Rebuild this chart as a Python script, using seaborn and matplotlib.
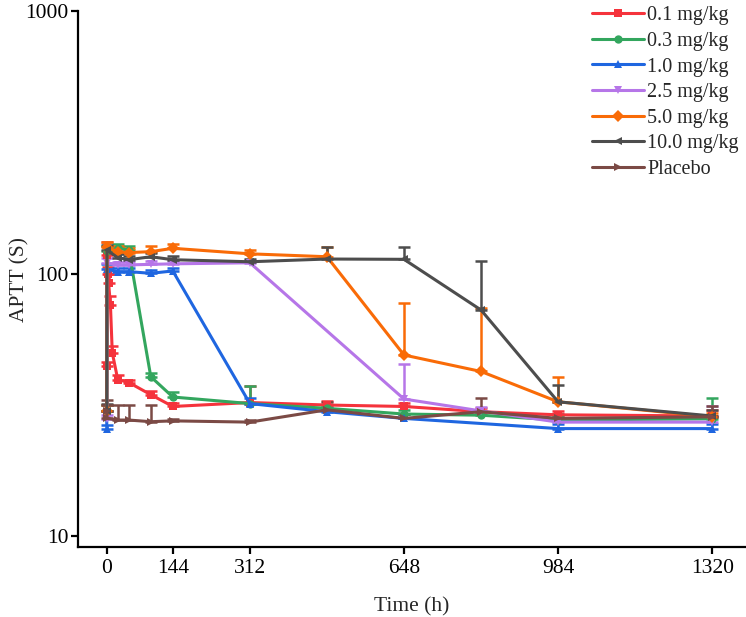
import numpy as np
import pandas as pd
import seaborn as sns
import matplotlib
matplotlib.use("Agg")
import matplotlib.pyplot as plt
from matplotlib.ticker import FixedLocator, NullLocator, FixedFormatter

# ---- data ----
doses = ["0.1 mg/kg", "0.3 mg/kg", "1.0 mg/kg", "2.5 mg/kg", "5.0 mg/kg", "10.0 mg/kg", "Placebo"]

t_01 = [0, 0.5, 2, 4, 8, 12, 24, 48, 96, 144, 312, 480, 648, 816, 984, 1320]
y_01 = [44.6, 118, 100, 92, 76, 50, 39.5, 38.5, 34.6, 31.2, 32.3, 31.6, 31.2, 29.8, 29.0, 28.7]
e_01 = [1.5, 14, 6, 8, 6, 3, 1.5, 1.0, 1.0, 1.0, 5.0, 1.0, 1.0, 1.0, 1.0, 1.5]

t_03 = [0, 0.5, 24, 48, 96, 144, 312, 480, 648, 816, 984, 1320]
y_03 = [30.0, 122, 124.9, 123, 40.5, 33.9, 32.0, 30.7, 29.2, 28.9, 27.7, 28.0]
e_03 = [1.5, 6, 5, 5, 1.5, 1.6, 5.5, 1.0, 1.0, 1.0, 1.0, 5.5]

t_10 = [0, 0.5, 24, 48, 96, 144, 312, 480, 648, 984, 1320]
y_10 = [25.5, 104, 101.8, 101.8, 100.3, 102.4, 32.0, 29.8, 28.1, 25.7, 25.7]
e_10 = [1.0, 5, 3, 3, 3, 3, 1.5, 1.0, 1.0, 1.0, 1.0]

t_25 = [0, 0.5, 24, 48, 96, 144, 312, 648, 816, 984, 1320]
y_25 = [28.0, 110, 108, 108, 108.5, 109, 110, 33.3, 30.0, 27.2, 27.2]
e_25 = [1.0, 5, 3, 3, 3, 3, 3, 12, 1.0, 1.0, 4.0]

t_50 = [0, 0.5, 24, 48, 96, 144, 312, 480, 648, 816, 984, 1320]
y_50 = [30.0, 126, 121.3, 120.3, 121.3, 124.9, 119, 116, 49, 42.4, 32.5, 28.5]
e_50 = [1.5, 6, 6, 5, 6, 5, 4, 10, 28.6, 31.6, 7.8, 1.0]

t_100 = [0, 0.5, 24, 48, 96, 144, 312, 480, 648, 816, 984, 1320]
y_100 = [30.0, 123, 115, 113, 116, 113, 111, 113.7, 113.4, 72.7, 32.5, 28.7]
e_100 = [2.0, 6, 4, 4, 4, 4, 3, 13, 13, 39, 5.2, 1.5]

t_pl = [0, 0.5, 24, 48, 96, 144, 312, 480, 648, 816, 984, 1320]
y_pl = [30.0, 28.1, 27.7, 27.7, 27.3, 27.5, 27.2, 30.3, 28.1, 29.8, 28.1, 28.5]
e_pl = [3.0, 3.5, 4.0, 3.9, 4.2, 0.5, 0.5, 2.2, 1.0, 3.9, 1.0, 2.7]

times = [t_01, t_03, t_10, t_25, t_50, t_100, t_pl]
vals = [y_01, y_03, y_10, y_25, y_50, y_100, y_pl]
errs = [e_01, e_03, e_10, e_25, e_50, e_100, e_pl]

colors = ["#F5333C", "#33A65E", "#1F66E0", "#B676E8", "#F96B07", "#4D4D4D", "#7B4A45"]
marks = ["s", "o", "^", "v", "D", "<", ">"]

rows = []
for d, tt, yy in zip(doses, times, vals):
    for a, b in zip(tt, yy):
        rows.append({"Time (h)": a, "APTT (S)": b, "dose": d})
df = pd.DataFrame(rows)

sns.set_style("ticks")
plt.rcParams["font.family"] = ["Liberation Serif", "DejaVu Serif"]

fig = plt.figure(figsize=(7.46, 6.17), dpi=100)
ax = fig.add_axes([0.105, 0.1135, 0.894, 0.8685])

# error bars first (upper only), so lines sit on top
for tt, yy, ee, c in zip(times, vals, errs, colors):
    ee = np.array(ee)
    ax.errorbar(tt, yy, yerr=[np.zeros_like(ee), ee], fmt="none", ecolor=c,
                elinewidth=1.8, capsize=4, capthick=1.8, zorder=1)

sns.lineplot(data=df, x="Time (h)", y="APTT (S)", hue="dose", style="dose",
             hue_order=doses, style_order=doses,
             palette=dict(zip(doses, colors)), markers=dict(zip(doses, marks)),
             dashes=False, markersize=6, markeredgewidth=0, linewidth=2.2,
             sort=False, estimator=None, ax=ax, zorder=2)

ax.set_yscale("log")
ax.set_ylim(9.1, 1000)
ax.set_xlim(-62, 1392)
ax.yaxis.set_major_locator(FixedLocator([10, 100, 1000]))
ax.yaxis.set_major_formatter(FixedFormatter(["10", "100", "1000"]))
ax.yaxis.set_minor_locator(NullLocator())
ax.set_xticks([0, 144, 312, 648, 984, 1320])

for s in ["top", "right"]:
    ax.spines[s].set_visible(False)
for s in ["left", "bottom"]:
    ax.spines[s].set_linewidth(1.6)
    ax.spines[s].set_color("black")
ax.tick_params(axis="both", direction="out", length=5, width=1.6,
               labelsize=15.5, colors="black")
ax.tick_params(axis="y", pad=2)
ax.set_xlabel("Time (h)", fontsize=15.5, labelpad=14)
ax.set_ylabel("APTT (S)", fontsize=15.5)
ax.yaxis.set_label_coords(-0.073, 0.5)

handles, labels = ax.get_legend_handles_labels()
leg = ax.legend(handles, labels, loc="upper right", bbox_to_anchor=(0.993, 0.993),
                bbox_transform=fig.transFigure, frameon=False, fontsize=14.5,
                handlelength=2.6, handletextpad=0.15, labelspacing=0.32,
                borderaxespad=0, borderpad=0.1)
for h in leg.legend_handles:
    h.set_markersize(6)

fig.savefig("out.png", dpi=100)
